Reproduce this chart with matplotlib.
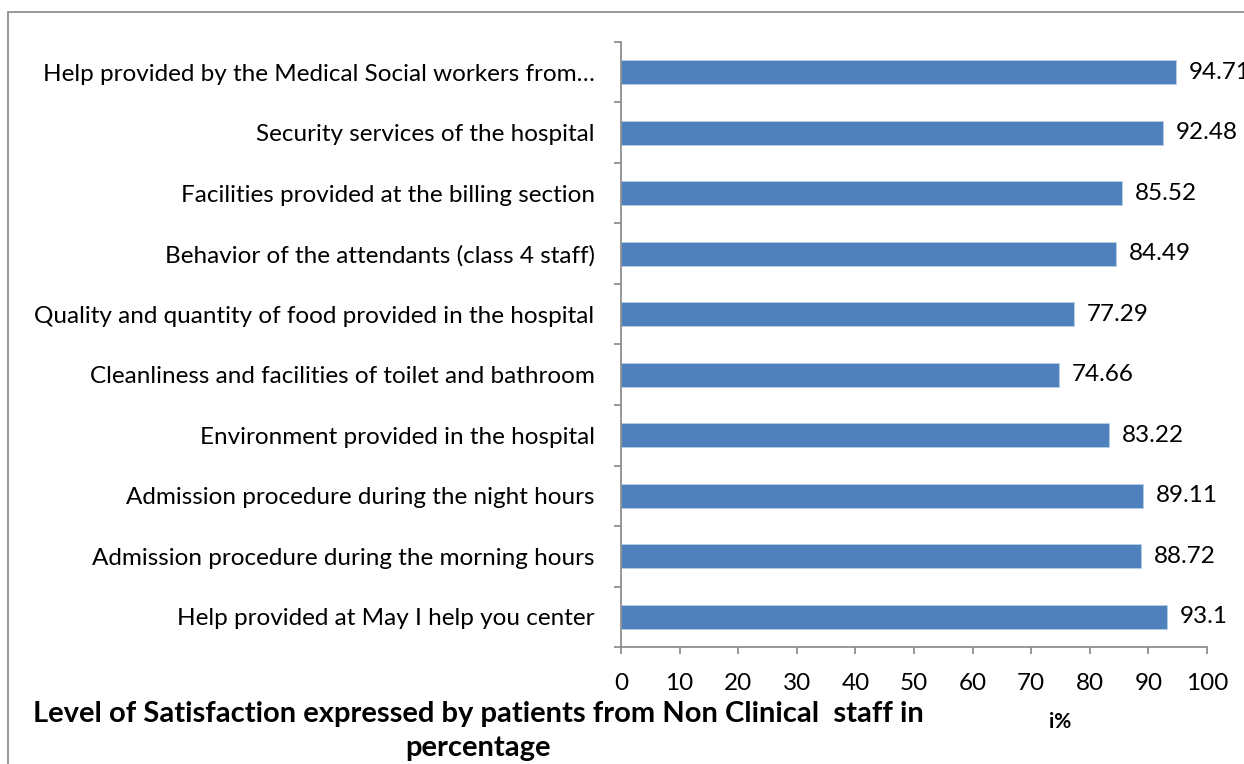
import matplotlib
matplotlib.use('Agg')
import matplotlib.pyplot as plt
from matplotlib.patches import Rectangle

# categories, bottom to top
labels = [
    'Help provided at May I help you center',
    'Admission procedure during the morning hours',
    'Admission procedure during the night hours',
    'Environment provided in the hospital',
    'Cleanliness and facilities of toilet and bathroom',
    'Quality and quantity of food provided in the hospital',
    'Behavior of the attendants (class 4 staff)',
    'Facilities provided at the billing section',
    'Security services of the hospital',
    'Help provided by the Medical Social workers from\u2026',
]
values = [93.1, 88.72, 89.11, 83.22, 74.66, 77.29, 84.49, 85.52, 92.48, 94.71]
value_text = ['93.1', '88.72', '89.11', '83.22', '74.66', '77.29', '84.49', '85.52', '92.48', '94.71']
xticks = list(range(0, 101, 10))

plt.rcParams['font.family'] = ['Lato', 'DejaVu Sans']
GRAY = '#868686'
FS = 17.5

fig = plt.figure(figsize=(12.44, 7.64), dpi=100)
fig.patches.append(Rectangle((8 / 1244, -0.1), 1.2, 1.1 - 12 / 764,
                             transform=fig.transFigure, fill=False,
                             edgecolor=GRAY, linewidth=1.2))

ax = fig.add_axes([621 / 1244, 1 - 647 / 764, 586 / 1244, 605 / 764])
ind = range(len(labels))
ax.barh(ind, values, height=0.4, color='#4F81BD', edgecolor='#B9CDE5', linewidth=0.6)

# the top value runs into the right edge, as in the original
for i, v in enumerate(values):
    ax.text(v + 2.2, i, value_text[i], va='center', ha='left', fontsize=FS, clip_on=False)

ax.set_xlim(0, 100)
ax.set_ylim(-0.5, len(labels) - 0.5)
ax.set_xticks(xticks)
ax.set_xticklabels([str(t) for t in xticks], fontsize=FS)
ax.set_yticks(list(ind))
ax.set_yticklabels(labels, fontsize=FS)
ax.set_yticks([i - 0.5 for i in range(len(labels) + 1)], minor=True)
ax.tick_params(axis='y', which='major', length=0, pad=19)
ax.tick_params(axis='y', which='minor', length=5, color=GRAY, width=1.2, direction='out')
ax.tick_params(axis='x', length=5, color=GRAY, width=1.2, direction='out', pad=14)

for s in ['top', 'right']:
    ax.spines[s].set_visible(False)
for s in ['left', 'bottom']:
    ax.spines[s].set_color(GRAY)
    ax.spines[s].set_linewidth(1.2)

fig.text(478 / 1244, 1 - 731 / 764,
         'Level of Satisfaction expressed by patients from Non Clinical  staff in\npercentage',
         ha='center', va='center', fontsize=21, fontweight='bold', linespacing=1.4)
fig.text(1060 / 1244, 1 - 722 / 764, 'i%', ha='center', va='center', fontsize=15, fontweight='bold')

fig.savefig('out.png', dpi=100)
